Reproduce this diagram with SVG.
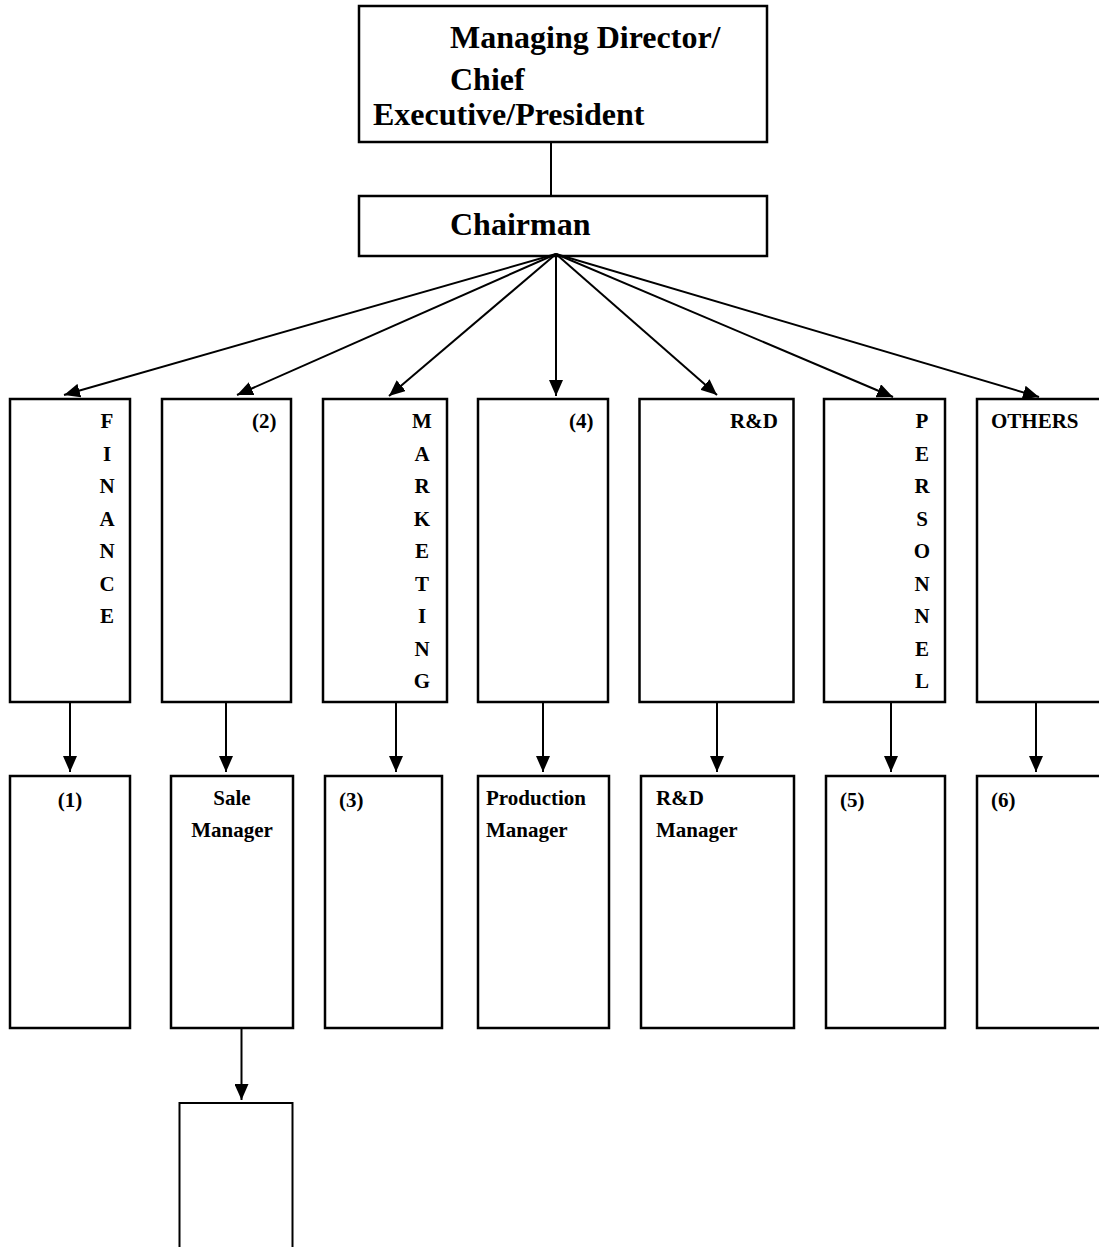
<svg xmlns="http://www.w3.org/2000/svg" width="1099" height="1247" viewBox="0 0 1099 1247">
<style>
.box{fill:#fff;stroke:#000;stroke-width:2.5}
.box2{fill:#fff;stroke:#000;stroke-width:2}
.t{font-family:"Liberation Serif","Times New Roman",serif;font-weight:bold;fill:#000}
.big{font-size:32px}
.sm{font-size:21px}
.mid{text-anchor:middle}
.conn line{stroke:#000;stroke-width:2;fill:none}
</style>
<defs>
<marker id="ah" markerUnits="userSpaceOnUse" markerWidth="16" markerHeight="14" refX="16" refY="7" orient="auto">
<path d="M0,0 L16,7 L0,14 z" fill="#000"/>
</marker>
</defs>
<rect width="1099" height="1247" fill="#fff"/>

<g id="managing-director">
<rect class="box" x="359" y="6" width="408" height="136"/>
<text class="t big" x="450" y="48">Managing Director/</text>
<text class="t big" x="450" y="90">Chief</text>
<text class="t big" x="373" y="125">Executive/President</text>
</g>

<g id="chairman">
<rect class="box" x="359" y="196" width="408" height="60"/>
<text class="t big" x="450" y="235">Chairman</text>
</g>

<g id="finance">
<rect class="box" x="10" y="399" width="120" height="303"/>
<text class="t sm mid" x="107"><tspan x="107" y="428">F</tspan><tspan x="107" y="460.5">I</tspan><tspan x="107" y="493">N</tspan><tspan x="107" y="525.5">A</tspan><tspan x="107" y="558">N</tspan><tspan x="107" y="590.5">C</tspan><tspan x="107" y="623">E</tspan></text>
</g>

<g id="dept-2">
<rect class="box" x="162" y="399" width="129" height="303"/>
<text class="t sm" x="252" y="428">(2)</text>
</g>

<g id="marketing">
<rect class="box" x="323" y="399" width="124" height="303"/>
<text class="t sm mid" x="422"><tspan x="422" y="428">M</tspan><tspan x="422" y="460.5">A</tspan><tspan x="422" y="493">R</tspan><tspan x="422" y="525.5">K</tspan><tspan x="422" y="558">E</tspan><tspan x="422" y="590.5">T</tspan><tspan x="422" y="623">I</tspan><tspan x="422" y="655.5">N</tspan><tspan x="422" y="688">G</tspan></text>
</g>

<g id="dept-4">
<rect class="box" x="478" y="399" width="130" height="303"/>
<text class="t sm" x="569" y="428">(4)</text>
</g>

<g id="rnd">
<rect class="box" x="639.5" y="399" width="154" height="303"/>
<text class="t sm" x="730" y="428">R&amp;D</text>
</g>

<g id="personnel">
<rect class="box" x="824" y="399" width="121" height="303"/>
<text class="t sm mid" x="922"><tspan x="922" y="428">P</tspan><tspan x="922" y="460.5">E</tspan><tspan x="922" y="493">R</tspan><tspan x="922" y="525.5">S</tspan><tspan x="922" y="558">O</tspan><tspan x="922" y="590.5">N</tspan><tspan x="922" y="623">N</tspan><tspan x="922" y="655.5">E</tspan><tspan x="922" y="688">L</tspan></text>
</g>

<g id="others">
<rect class="box" x="977" y="399" width="130" height="303"/>
<text class="t sm" x="991" y="428">OTHERS</text>
</g>

<g id="sub-1">
<rect class="box" x="10" y="776" width="120" height="252"/>
<text class="t sm mid" x="70" y="807">(1)</text>
</g>

<g id="sale-manager">
<rect class="box" x="171" y="776" width="122" height="252"/>
<text class="t sm mid" x="232" y="805">Sale</text>
<text class="t sm mid" x="232" y="837">Manager</text>
</g>

<g id="sub-3">
<rect class="box" x="325" y="776" width="117" height="252"/>
<text class="t sm" x="339" y="807">(3)</text>
</g>

<g id="production-manager">
<rect class="box" x="478" y="776" width="131" height="252"/>
<text class="t sm" x="486" y="805">Production</text>
<text class="t sm" x="486" y="837">Manager</text>
</g>

<g id="rnd-manager">
<rect class="box" x="641" y="776" width="153" height="252"/>
<text class="t sm" x="656" y="805">R&amp;D</text>
<text class="t sm" x="656" y="837">Manager</text>
</g>

<g id="sub-5">
<rect class="box" x="826" y="776" width="119" height="252"/>
<text class="t sm" x="840" y="807">(5)</text>
</g>

<g id="sub-6">
<rect class="box" x="977" y="776" width="130" height="252"/>
<text class="t sm" x="991" y="807">(6)</text>
</g>

<g id="sale-sub">
<rect class="box2" x="179.5" y="1103" width="113" height="170"/>
</g>

<g id="connectors" class="conn">
<line x1="551" y1="142" x2="551" y2="196"/>
<line x1="556" y1="254" x2="64" y2="395" marker-end="url(#ah)"/>
<line x1="556" y1="254" x2="237" y2="395" marker-end="url(#ah)"/>
<line x1="556" y1="254" x2="389" y2="396" marker-end="url(#ah)"/>
<line x1="556" y1="254" x2="556" y2="396" marker-end="url(#ah)"/>
<line x1="556" y1="254" x2="717" y2="395" marker-end="url(#ah)"/>
<line x1="556" y1="254" x2="893" y2="397" marker-end="url(#ah)"/>
<line x1="556" y1="254" x2="1039" y2="397" marker-end="url(#ah)"/>
<line x1="70" y1="702" x2="70" y2="772" marker-end="url(#ah)"/>
<line x1="226" y1="702" x2="226" y2="772" marker-end="url(#ah)"/>
<line x1="396" y1="702" x2="396" y2="772" marker-end="url(#ah)"/>
<line x1="543" y1="702" x2="543" y2="772" marker-end="url(#ah)"/>
<line x1="717" y1="702" x2="717" y2="772" marker-end="url(#ah)"/>
<line x1="891" y1="702" x2="891" y2="772" marker-end="url(#ah)"/>
<line x1="1036" y1="702" x2="1036" y2="772" marker-end="url(#ah)"/>
<line x1="241.5" y1="1028" x2="241.5" y2="1100" marker-end="url(#ah)"/>
</g>
</svg>
